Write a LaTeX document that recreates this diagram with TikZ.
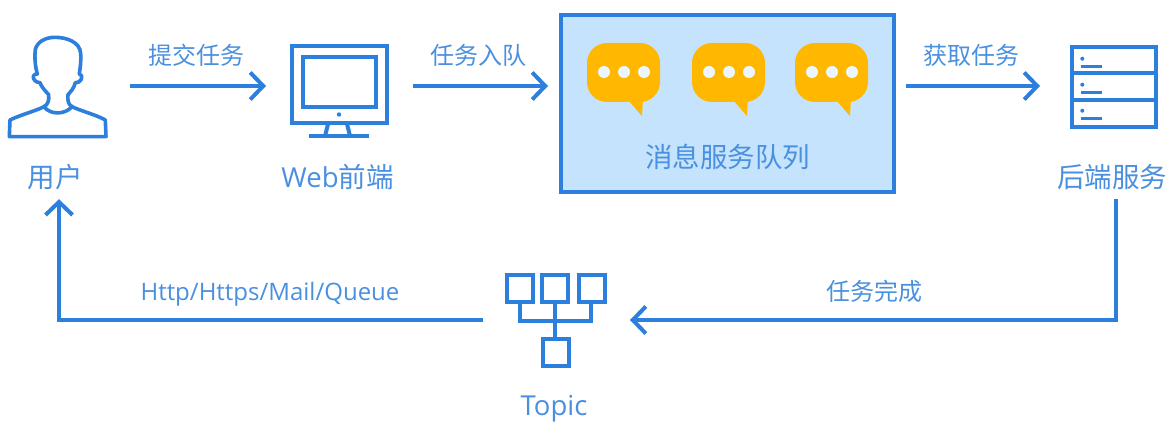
\documentclass[tikz,border=0pt]{standalone}
\usepackage{fontspec}
\setmainfont{Noto Sans CJK SC}
\newfontfamily\latinfont{Open Sans}
\usetikzlibrary{arrows.meta}
\definecolor{mainblue}{HTML}{2C7FDD}
\definecolor{textblue}{HTML}{4A90E0}
\definecolor{panelblue}{HTML}{C5E3FC}
\definecolor{bubble}{HTML}{FFB700}
\tikzset{
  x=1pt,y=-1pt,
  flow/.style={draw=mainblue,line width=4pt,-{Straight Barb[length=13pt,width=27pt,line width=4pt]}},
  icon/.style={draw=mainblue,line width=4pt,fill=none},
  iconbox/.style={inner sep=0pt,outer sep=0pt,minimum width=#1},
  lab/.style={text=textblue,font=\fontsize{24}{28}\selectfont,inner sep=0pt,minimum height=30pt,text height=21pt,text depth=5pt},
  biglab/.style={lab,font=\fontsize{27.5}{30}\selectfont},
  bubblepic/.pic={
    \fill[bubble,rounded corners=20pt] (0,0) rectangle (73,59);
    \fill[bubble] (41,57) -- (55,73) -- (56,55) -- cycle;
    \foreach \dx in {17,37,57} \fill[panelblue!35!white] (\dx,29) circle (6pt);
  }
}
\begin{document}
\begin{tikzpicture}
\useasboundingbox (0,0) rectangle (1167,422);
\fill[white] (0,0) rectangle (1167,422);

% invisible icon boxes
\node[iconbox=99pt,minimum height=100pt] (user) at (57.5,86) {};
\node[iconbox=98pt,minimum height=80pt] (web) at (339,86) {};
\node[iconbox=86pt,minimum height=78pt] (server) at (1114,86) {};
\node[iconbox=101pt,minimum height=94pt] (topic) at (555.5,320) {};
\node[draw=mainblue,line width=4pt,fill=panelblue,inner sep=0pt,minimum width=333pt,minimum height=177pt] (queue) at (727.5,103.5) {};

% person
\begin{scope}[x=0.3333pt,y=-0.3333pt,shift={(0pt,-20pt)}]
\draw[icon,line width=3.6pt,line join=round]
  (28,350) -- (30,300) .. controls (60,285) and (110,272) .. (132,260)
  .. controls (146,252) and (147,240) .. (146,224)
  .. controls (135,212) and (124,200) .. (120,188)
  .. controls (108,188) and (98,178) .. (100,168)
  .. controls (103,162) and (108,162) .. (112,162)
  .. controls (106,140) and (103,115) .. (106,88)
  .. controls (112,66) and (135,52) .. (165,52)
  .. controls (200,52) and (240,66) .. (242,100)
  .. controls (244,125) and (240,145) .. (238,162)
  .. controls (245,162) and (248,172) .. (244,178)
  .. controls (240,186) and (234,188) .. (226,188)
  .. controls (222,205) and (212,215) .. (204,224)
  .. controls (203,240) and (203,252) .. (216,260)
  .. controls (240,272) and (290,285) .. (316,300)
  -- (318,350) -- cycle;
\draw[icon,line width=3.6pt] (132,260) .. controls (150,285) and (195,285) .. (216,260);
\end{scope}

% monitor
\draw[icon] (291.5,46.5) rectangle (387,123);
\draw[icon] (303,57.5) rectangle (375.5,107);
\fill[mainblue] (339,114.5) circle (2.2pt);
\draw[icon] (328,124) -- (325,136) (347,124) -- (350,136);
\draw[icon] (309,136.5) -- (368.5,136.5);

% server
\draw[icon] (1072,47.5) rectangle (1156,127);
\draw[icon] (1072,73.5) -- (1156,73.5) (1072,100.5) -- (1156,100.5);
\foreach \yy in {0,26,52} {
  \fill[mainblue] (1082.3,58.7+\yy) circle (2pt);
  \draw[mainblue,line width=3pt] (1080.5,66.3+\yy) -- (1102,66.3+\yy);
}

% topic
\foreach \xx/\yy in {505/274,540/274,577/274,541/338} {
  \draw[icon] (\xx+1.5,\yy+1) rectangle (\xx+28,\yy+28);
}
\draw[icon] (519.5,302) -- (519.5,321) -- (591,321) -- (591,302);
\draw[icon] (555,302) -- (555,338);

% bubbles
\pic at (587,43) {bubblepic};
\pic at (692,43) {bubblepic};
\pic at (795,43) {bubblepic};

% labels
\node[biglab] (luser) at (55,180) {用户};
\node[biglab] (lweb) at (337.5,180) {{\latinfont Web}前端};
\node[biglab] (lqueue) at (727.5,160) {消息服务队列};
\node[biglab] (lserver) at (1112,180) {后端服务};
\node[biglab,font=\latinfont\fontsize{27.5}{30}\selectfont,minimum height=0pt,text height=20pt,text depth=6.5pt,anchor=base] (ltopic) at (554,415) {Topic};
\node[lab] (l1) at (196,56.5) {提交任务};
\node[lab] (l2) at (478,56.5) {任务入队};
\node[lab] (l3) at (971,56.5) {获取任务};
\node[lab] (l4) at (874,292.5) {任务完成};
\node[lab,font=\latinfont\fontsize{24}{26}\selectfont] (l5) at (270,292) {Http/Https/Mail/Queue};

% connectors
\draw[flow] ([xshift=23pt]user.east) -- ([xshift=-24pt]web.west);
\draw[flow] ([xshift=25pt]web.east) -- ([xshift=-11pt,yshift=17.5pt]queue.west);
\draw[flow] ([xshift=10pt,yshift=17.5pt]queue.east) -- ([xshift=-31pt]server.west);
\draw[flow] ([xshift=4pt,yshift=-4pt]lserver.south) |- ([xshift=24pt]topic.east);
\draw[flow] ([xshift=-22pt]topic.west) -| ([xshift=4pt,yshift=-4pt]luser.south);
\end{tikzpicture}
\end{document}
